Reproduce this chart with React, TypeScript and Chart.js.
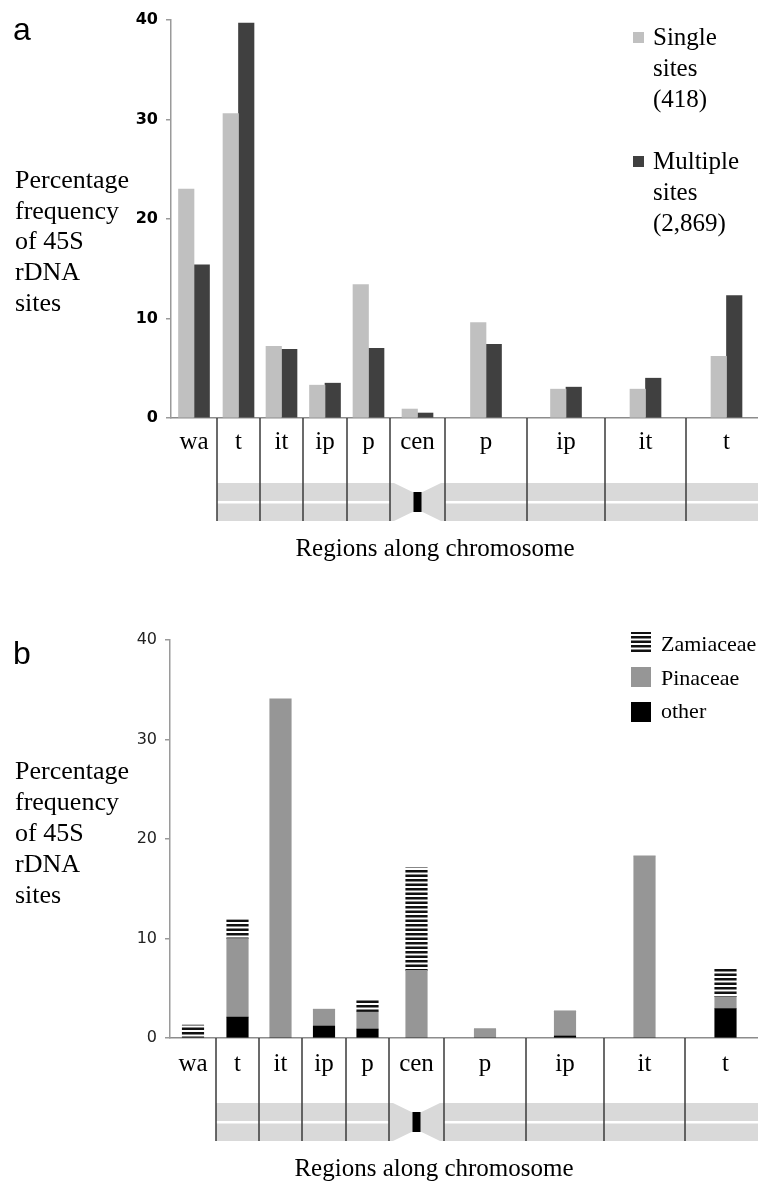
import React, { useEffect, useRef } from "react";
import { Chart, registerables } from "chart.js";

Chart.register(...registerables);

// ---- data ----
const regionLabels = ["wa", "t", "it", "ip", "p", "cen", "p", "ip", "it", "t"];
// relative widths of the regions drawn along the chromosome diagram
const regionWidths = [46, 43, 43, 44, 43, 55, 82, 78, 81, 81];
const yTicks = [0, 10, 20, 30, 40];

// panel a
const singleSites = [23.0, 30.6, 7.2, 3.3, 13.4, 0.9, 9.6, 2.9, 2.9, 6.2];
const multipleSites = [15.4, 39.7, 6.9, 3.5, 7.0, 0.5, 7.4, 3.1, 4.0, 12.3];

// panel b (stacked: other, Pinaceae, Zamiaceae)
const otherFam = [0, 2.1, 0, 1.2, 0.9, 0, 0, 0.2, 0, 2.95];
const pinaceae = [0, 7.9, 34.1, 1.7, 1.7, 6.8, 0.9, 2.5, 18.3, 1.2];
const zamiaceae = [1.3, 1.9, 0, 0, 1.2, 10.3, 0, 0, 0, 2.8];

const yTitleLines = ["Percentage", "frequency", "of 45S", "rDNA", "sites"];
const xTitle = "Regions along chromosome";

const regionEdges: number[] = regionWidths.reduce(
  (acc: number[], w) => {
    acc.push(acc[acc.length - 1] + w);
    return acc;
  },
  [0]
);
const regionCenters = regionWidths.map((w, i) => regionEdges[i] + w / 2);

const SERIF = '"Liberation Serif", "Times New Roman", serif';
const SANS = '"Liberation Sans", Arial, sans-serif';
const W = 758;

function makeStripes(): CanvasPattern | string {
  const c = document.createElement("canvas");
  c.width = 8;
  c.height = 9;
  const g = c.getContext("2d");
  if (!g) return "#555";
  g.fillStyle = "#ffffff";
  g.fillRect(0, 0, 8, 9);
  g.fillStyle = "#111111";
  g.fillRect(0, 0, 8, 2.5);
  g.fillRect(0, 4.5, 8, 2.5);
  return g.createPattern(c, "repeat") || "#555";
}

type DecorCfg = {
  letter: string;
  letterBase: number;
  labelDy: number;
  yTitleBase: number;
  yTitleStep: number;
  xTitleX: number;
  drawLegend: (ctx: CanvasRenderingContext2D, chart: any) => void;
};

function makeDecor(cfg: DecorCfg) {
  return {
    id: "decor",
    afterDraw(chart: any) {
      const ctx: CanvasRenderingContext2D = chart.ctx;
      const xs = chart.scales.x;
      const axisY = chart.chartArea.bottom;
      const px = (v: number) => xs.getPixelForValue(v);
      const right = chart.width;
      ctx.save();

      // chromosome band
      const bandTop = axisY + 65;
      const bandBot = axisY + 103;
      const cenI = 5;
      const cx0 = px(regionEdges[cenI]);
      const cx1 = px(regionEdges[cenI + 1]);
      const cxc = px(regionCenters[cenI]);
      const bandStart = px(regionEdges[1]);
      ctx.fillStyle = "#d9d9d9";
      ctx.fillRect(bandStart, bandTop, cx0 - bandStart, bandBot - bandTop);
      ctx.fillRect(cx1, bandTop, right - cx1, bandBot - bandTop);
      ctx.beginPath();
      ctx.moveTo(cx0, bandTop);
      ctx.lineTo(cx0 + 4, bandTop);
      ctx.lineTo(cxc - 5, axisY + 74);
      ctx.lineTo(cxc + 5, axisY + 74);
      ctx.lineTo(cx1 - 4, bandTop);
      ctx.lineTo(cx1, bandTop);
      ctx.lineTo(cx1, bandBot);
      ctx.lineTo(cx1 - 4, bandBot);
      ctx.lineTo(cxc + 5, axisY + 94);
      ctx.lineTo(cxc - 5, axisY + 94);
      ctx.lineTo(cx0 + 4, bandBot);
      ctx.lineTo(cx0, bandBot);
      ctx.closePath();
      ctx.fill();
      ctx.fillStyle = "#ffffff";
      ctx.fillRect(bandStart, axisY + 83, cx0 - bandStart, 2.5);
      ctx.fillRect(cx1, axisY + 83, right - cx1, 2.5);
      ctx.fillStyle = "#000000";
      ctx.fillRect(cxc - 4, axisY + 74, 8, 20);

      // dividers
      ctx.strokeStyle = "#3a3a3a";
      ctx.lineWidth = 1.5;
      for (let i = 1; i < regionEdges.length - 1; i++) {
        const x = px(regionEdges[i]);
        if (x > right) continue;
        ctx.beginPath();
        ctx.moveTo(x, axisY);
        ctx.lineTo(x, bandBot);
        ctx.stroke();
      }

      // region labels
      ctx.fillStyle = "#000000";
      ctx.font = `25px ${SERIF}`;
      ctx.textAlign = "center";
      ctx.textBaseline = "alphabetic";
      regionLabels.forEach((l, i) => {
        ctx.fillText(l, px(regionCenters[i]), axisY + cfg.labelDy);
      });

      // x title
      ctx.fillText(xTitle, cfg.xTitleX, axisY + 138);

      // y title
      ctx.textAlign = "left";
      ctx.font = `26px ${SERIF}`;
      yTitleLines.forEach((l, i) => {
        ctx.fillText(l, 15, cfg.yTitleBase + i * cfg.yTitleStep);
      });

      // panel letter
      ctx.font = `32px ${SANS}`;
      ctx.fillText(cfg.letter, 13, cfg.letterBase);

      cfg.drawLegend(ctx, chart);
      ctx.restore();
    },
  };
}

function yScale(left: number, bold: boolean) {
  return {
    min: 0,
    max: 40,
    afterBuildTicks: (s: any) => {
      s.ticks = yTicks.map((v) => ({ value: v }));
    },
    ticks: {
      font: { family: "DejaVu Sans", size: 16, weight: bold ? "bold" : "normal" },
      color: bold ? "#000000" : "#222222",
      padding: 8,
    },
    grid: { drawOnChartArea: false, drawTicks: true, tickLength: 5, color: "#9a9a9a", lineWidth: 1.5 },
    border: { display: true, color: "#9a9a9a", width: 1.5 },
    afterFit: (s: any) => {
      s.width = left;
    },
  };
}

function xScale(left: number, height: number, stacked: boolean) {
  return {
    type: "linear",
    min: 0,
    max: W - left,
    offset: false,
    stacked,
    ticks: { display: false },
    grid: { display: false, drawTicks: false },
    border: { display: true, color: "#8c8c8c", width: 1.5 },
    afterFit: (s: any) => {
      s.height = height;
    },
  };
}

export default function App() {
  const refA = useRef<HTMLCanvasElement>(null);
  const refB = useRef<HTMLCanvasElement>(null);

  useEffect(() => {
    document.body.style.margin = "0";
    const stripes = makeStripes();

    const leftA = 171;
    const chartA = new Chart(refA.current as HTMLCanvasElement, {
      type: "bar",
      data: {
        datasets: [
          {
            label: "Single sites (418)",
            data: singleSites.map((v, i) => ({ x: regionCenters[i], y: v })),
            backgroundColor: "#c0c0c0",
            barThickness: 15.5,
          },
          {
            label: "Multiple sites (2,869)",
            data: multipleSites.map((v, i) => ({ x: regionCenters[i], y: v })),
            backgroundColor: "#404040",
            barThickness: 15.5,
          },
        ],
      } as any,
      options: {
        responsive: false,
        animation: false,
        devicePixelRatio: 1,
        layout: { padding: { top: 20, left: 0, right: 0, bottom: 0 } },
        plugins: { legend: { display: false }, tooltip: { enabled: false } },
        scales: {
          x: xScale(leftA, 182, false),
          y: yScale(leftA, true),
        },
      } as any,
      plugins: [
        makeDecor({
          letter: "a",
          letterBase: 40,
          labelDy: 31,
          yTitleBase: 188,
          yTitleStep: 30.7,
          xTitleX: 435,
          drawLegend: (ctx, chart) => {
            const ds = chart.data.datasets;
            ctx.font = `25px ${SERIF}`;
            ctx.textAlign = "left";
            const starts = [45, 169];
            ds.forEach((d: any, i: number) => {
              ctx.fillStyle = d.backgroundColor;
              ctx.fillRect(633, starts[i] - 13, 11, 11);
              ctx.fillStyle = "#000000";
              String(d.label)
                .split(" ")
                .forEach((w: string, j: number) => ctx.fillText(w, 653, starts[i] + j * 31));
            });
          },
        }) as any,
      ],
    });

    const leftB = 170;
    const chartB = new Chart(refB.current as HTMLCanvasElement, {
      type: "bar",
      data: {
        datasets: [
          {
            label: "other",
            data: otherFam.map((v, i) => ({ x: regionCenters[i], y: v })),
            backgroundColor: "#000000",
            barThickness: 21.5,
            stack: "s",
          },
          {
            label: "Pinaceae",
            data: pinaceae.map((v, i) => ({ x: regionCenters[i], y: v })),
            backgroundColor: "#969696",
            barThickness: 21.5,
            stack: "s",
          },
          {
            label: "Zamiaceae",
            data: zamiaceae.map((v, i) => ({ x: regionCenters[i], y: v })),
            backgroundColor: stripes,
            barThickness: 21.5,
            stack: "s",
          },
        ],
      } as any,
      options: {
        responsive: false,
        animation: false,
        devicePixelRatio: 1,
        layout: { padding: { top: 40, left: 0, right: 0, bottom: 0 } },
        plugins: { legend: { display: false }, tooltip: { enabled: false } },
        scales: {
          x: xScale(leftB, 143, true),
          y: { ...yScale(leftB, false), stacked: true },
        },
      } as any,
      plugins: [
        makeDecor({
          letter: "b",
          letterBase: 64,
          labelDy: 33,
          yTitleBase: 179.3,
          yTitleStep: 31,
          xTitleX: 434,
          drawLegend: (ctx, chart) => {
            const ds = chart.data.datasets.slice().reverse();
            ctx.font = `22px ${SERIF}`;
            ctx.textAlign = "left";
            ds.forEach((d: any, i: number) => {
              ctx.fillStyle = d.backgroundColor;
              ctx.fillRect(631, 32 + i * 35, 20, 20);
              ctx.fillStyle = "#000000";
              ctx.fillText(String(d.label), 661, 51 + i * 33.5);
            });
          },
        }) as any,
      ],
    });

    return () => {
      chartA.destroy();
      chartB.destroy();
    };
  }, []);

  return (
    <div style={{ width: W }}>
      <canvas ref={refA} width={W} height={600} style={{ display: "block" }} />
      <canvas ref={refB} width={W} height={581} style={{ display: "block" }} />
    </div>
  );
}
